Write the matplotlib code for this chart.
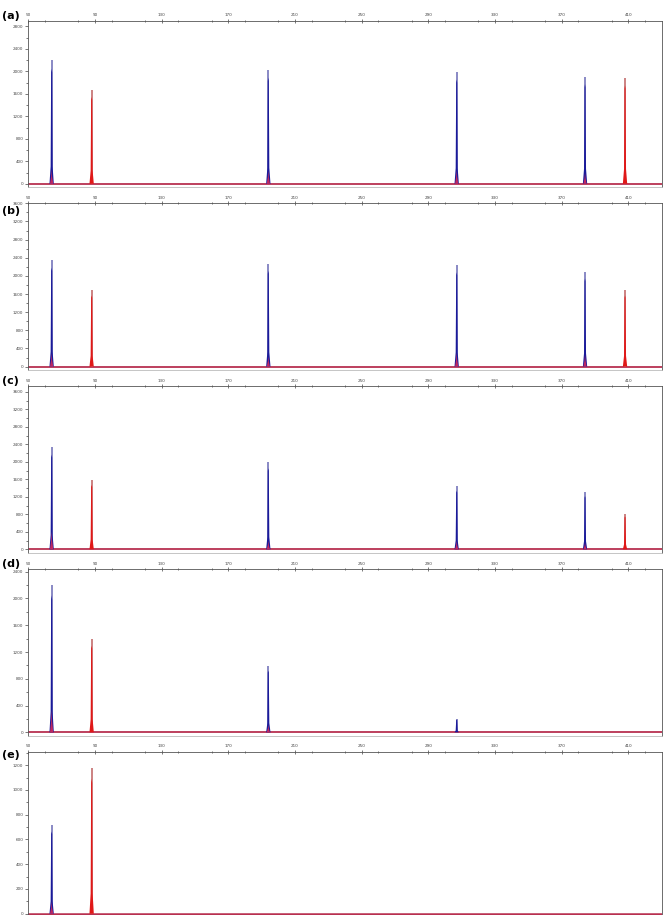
import numpy as np
import matplotlib.pyplot as plt
from matplotlib.ticker import MultipleLocator

# Peak sizes (bp) and heights (RFU)
blue_sizes = [64, 194, 307, 384]
red_sizes = [88, 408]

blue_a = [2200, 2030, 1995, 1905]
blue_b = [2345, 2272, 2235, 2088]
blue_c = [2331, 1995, 1440, 1310]
blue_d = [2201, 991, 203, 0]
blue_e = [715, 0, 0, 0]

red_a = [1660, 1880]
red_b = [1686, 1686]
red_c = [1584, 807]
red_d = [1390, 0]
red_e = [1174, 0]

# small red pull-up under the blue peaks
pull_a = [250, 230, 240, 190]
pull_b = [294, 220, 300, 260]
pull_c = [400, 190, 190, 145]
pull_d = [330, 110, 0, 0]
pull_e = [96, 0, 0, 0]

labels = ['(a)', '(b)', '(c)', '(d)', '(e)']
y_top = [2900, 3600, 3730, 2440, 1309]
y_step = [400, 400, 400, 400, 200]
x_ticks = [50, 90, 130, 170, 210, 250, 290, 330, 370, 410]

W, H = 666, 915
# axes top/bottom in pixels
ax_top = [20.7, 203.3, 386.3, 569.0, 751.7]
ax_bot = [187.1, 369.9, 552.6, 735.6, 917.0]
label_y = [15.7, 210.7, 380.7, 564.0, 755.0]

BLUE = '#1a1a9a'
BLUE_TOP = '#8080c0'
RED = '#e01818'
RED_TOP = '#c87878'
BASE = '#b83050'


def draw_peak(ax, x, h, color, top_color):
    if h <= 0:
        return
    xs = [x - 1.3, x - 0.6, x - 0.45, x - 0.3, x, x + 0.3, x + 0.45, x + 0.6, x + 1.3]
    ys = [0, 0.14 * h, 0.5 * h, 0.9 * h, 0.93 * h, 0.9 * h, 0.5 * h, 0.14 * h, 0]
    ax.plot([x, x], [0, h], color=top_color, lw=1.3, zorder=2,
            solid_capstyle='butt')
    ax.fill(xs, ys, color=color, lw=0, zorder=3)


fig = plt.figure(figsize=(W / 100, H / 100), dpi=100)

data = [(blue_a, red_a, pull_a), (blue_b, red_b, pull_b), (blue_c, red_c, pull_c),
        (blue_d, red_d, pull_d), (blue_e, red_e, pull_e)]

for i, (blue, red, pull) in enumerate(data):
    left = 28.3 / W
    width = (661.7 - 28.3) / W
    bottom = 1 - ax_bot[i] / H
    height = (ax_bot[i] - ax_top[i]) / H
    ax = fig.add_axes([left, bottom, width, height])

    ax.axhline(0, color=BASE, lw=1.8 if i == 4 else 1.3, zorder=1)
    for s, h in zip(blue_sizes, blue):
        draw_peak(ax, s, h, BLUE, BLUE_TOP)
    for s, h in zip(red_sizes, red):
        draw_peak(ax, s, h, RED, RED_TOP)
    for s, h in zip(blue_sizes, pull):
        if h > 0:
            ax.fill([s - 1.0, s - 0.3, s, s + 0.3, s + 1.0], [0, 0.5 * h, h, 0.5 * h, 0],
                    color='#c02860', lw=0, zorder=4)

    ax.set_xlim(50, 430)
    ax.set_ylim(-0.02 * y_top[i], y_top[i])

    ax.xaxis.tick_top()
    ax.set_xticks(x_ticks)
    ax.xaxis.set_minor_locator(MultipleLocator(20))
    ax.yaxis.set_major_locator(MultipleLocator(y_step[i]))
    ax.yaxis.set_minor_locator(MultipleLocator(y_step[i] / 2))
    ax.tick_params(axis='x', which='major', direction='inout', length=3, width=0.5,
                   labelsize=3, pad=1, colors='#444444')
    ax.tick_params(axis='x', which='minor', direction='inout', length=2, width=0.5,
                   colors='#444444')
    ax.tick_params(axis='y', which='major', direction='out', length=2.5, width=0.5,
                   labelsize=3, pad=1, colors='#444444')
    ax.tick_params(axis='y', which='minor', direction='out', length=1.5, width=0.5,
                   colors='#444444')
    for sp in ax.spines.values():
        sp.set_color('#555555')
        sp.set_linewidth(0.6)
    ax.spines['bottom'].set_color('#bbbbbb')

    fig.text(2 / W, 1 - label_y[i] / H, labels[i], fontsize=8, fontweight='bold',
             ha='left', va='center')

fig.savefig('out.png', dpi=100)
